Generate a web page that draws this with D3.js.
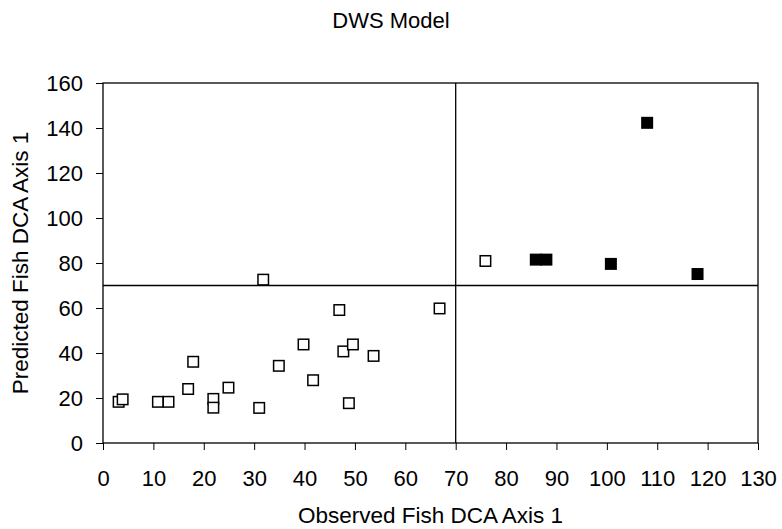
<!DOCTYPE html>
<html>
<head>
<meta charset="utf-8">
<script src="https://cdn.jsdelivr.net/npm/d3@7"></script>
<style>
  body { margin: 0; background: #fff; }
  svg { display: block; font-family: "Liberation Sans", Arial, sans-serif; }
</style>
</head>
<body>
<svg id="chart" width="782" height="529"></svg>
<script>
const WIDTH = 782;
const HEIGHT = 529;
const MARGIN = { top: 83, right: 24, bottom: 86, left: 103 };

// observations below threshold (open squares)
const openX = [3.1, 3.9, 10.9, 13.0, 16.9, 17.9, 21.9, 21.9, 24.9, 31.0, 31.8, 34.9, 39.8, 41.7, 46.9, 47.7, 49.6, 48.8, 53.7, 66.8, 75.9];
const openY = [18.3, 19.4, 18.3, 18.3, 24.0, 36.1, 19.6, 15.7, 24.6, 15.6, 72.6, 34.3, 43.8, 27.9, 59.1, 40.7, 43.8, 17.7, 38.7, 59.8, 80.9];
// filled squares
const filledX = [85.9, 88.0, 100.8, 108.0, 118.0];
const filledY = [81.5, 81.5, 79.6, 142.3, 75.1];

const xTicks = d3.range(0, 131, 10);
const yTicks = d3.range(0, 161, 20);
const THRESHOLD_X = 70;
const THRESHOLD_Y = 70;

const FONT = "'Liberation Sans', Arial, sans-serif";

const svg = d3.select("#chart");
const innerW = WIDTH - MARGIN.left - MARGIN.right;
const innerH = HEIGHT - MARGIN.top - MARGIN.bottom;

const x = d3.scaleLinear().domain([0, 130]).range([MARGIN.left, MARGIN.left + innerW]);
const y = d3.scaleLinear().domain([0, 160]).range([MARGIN.top + innerH, MARGIN.top]);

svg.append("text")
  .attr("x", WIDTH / 2)
  .attr("y", 28)
  .attr("text-anchor", "middle")
  .style("font-size", "22px")
  .text("DWS Model");

const xAxis = svg.append("g")
  .attr("transform", "translate(0," + y(0) + ")")
  .call(d3.axisBottom(x).tickValues(xTicks).tickSize(7).tickPadding(20).tickSizeOuter(0));

const yAxis = svg.append("g")
  .attr("transform", "translate(" + x(0) + ",0)")
  .call(d3.axisLeft(y).tickValues(yTicks).tickSize(7).tickPadding(13).tickSizeOuter(0));

[xAxis, yAxis].forEach(a => {
  a.select(".domain").remove();
  a.selectAll("line").attr("stroke", "#000");
  a.selectAll("text")
    .attr("fill", "#000")
    .style("font-size", "22px")
    .style("font-family", FONT);
});

// plot box
svg.append("rect")
  .attr("x", x(0))
  .attr("y", y(160))
  .attr("width", x(130) - x(0))
  .attr("height", y(0) - y(160))
  .attr("fill", "none")
  .attr("stroke", "#000")
  .attr("stroke-width", 1.3);

// quadrant lines
svg.append("line")
  .attr("x1", x(THRESHOLD_X)).attr("x2", x(THRESHOLD_X))
  .attr("y1", y(0)).attr("y2", y(160))
  .attr("stroke", "#000").attr("stroke-width", 1.3);
svg.append("line")
  .attr("x1", x(0)).attr("x2", x(130))
  .attr("y1", y(THRESHOLD_Y)).attr("y2", y(THRESHOLD_Y))
  .attr("stroke", "#000").attr("stroke-width", 1.3);

const OPEN_SIZE = 10.5;
const FILLED_SIZE = 12;

svg.append("g")
  .selectAll("rect")
  .data(openX.map((d, i) => [d, openY[i]]))
  .enter()
  .append("rect")
  .attr("x", d => x(d[0]) - OPEN_SIZE / 2)
  .attr("y", d => y(d[1]) - OPEN_SIZE / 2)
  .attr("width", OPEN_SIZE)
  .attr("height", OPEN_SIZE)
  .attr("fill", "#fff")
  .attr("stroke", "#000")
  .attr("stroke-width", 1.5);

svg.append("g")
  .selectAll("rect")
  .data(filledX.map((d, i) => [d, filledY[i]]))
  .enter()
  .append("rect")
  .attr("x", d => x(d[0]) - FILLED_SIZE / 2)
  .attr("y", d => y(d[1]) - FILLED_SIZE / 2)
  .attr("width", FILLED_SIZE)
  .attr("height", FILLED_SIZE)
  .attr("fill", "#000");

svg.append("text")
  .attr("x", (x(0) + x(130)) / 2)
  .attr("y", 523)
  .attr("text-anchor", "middle")
  .style("font-size", "22.5px")
  .text("Observed Fish DCA Axis 1");

svg.append("text")
  .attr("transform", "translate(28," + ((y(0) + y(160)) / 2) + ") rotate(-90)")
  .attr("text-anchor", "middle")
  .style("font-size", "22.5px")
  .text("Predicted Fish DCA Axis 1");
</script>
</body>
</html>
